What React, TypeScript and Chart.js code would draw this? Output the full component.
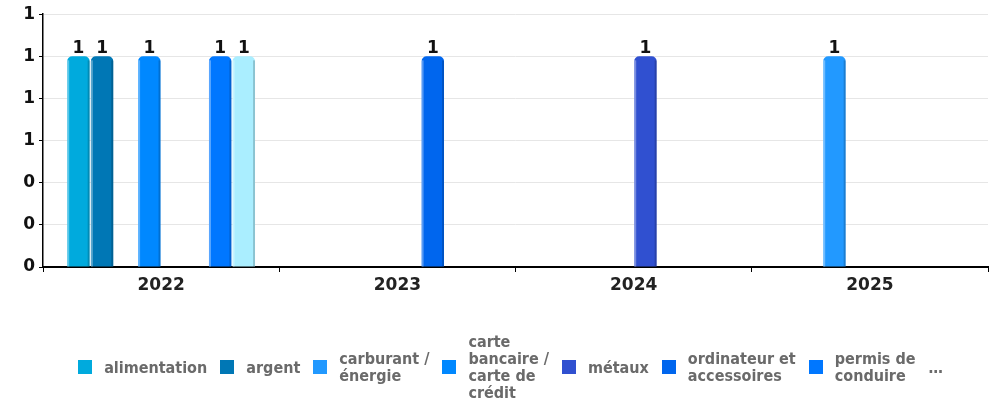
import React, { useEffect, useRef } from "react";
import { Chart, registerables } from "chart.js";

Chart.register(...registerables);

const categories = ["2022", "2023", "2024", "2025"];
const seriesNames = [
  "alimentation",
  "argent",
  "carburant /\nénergie",
  "carte\nbancaire /\ncarte de\ncrédit",
  "métaux",
  "ordinateur et\naccessoires",
  "permis de\nconduire",
  "autres",
];
const seriesColors = ["#00AADD", "#0077B5", "#2299FF", "#0088FF", "#3050D0", "#0066EE", "#0077FF", "#AAEEFF"];
const alimentation = [1, null, null, null];
const argent = [1, null, null, null];
const carburant = [null, null, null, 1];
const carteBancaire = [1, null, null, null];
const metaux = [null, null, 1, null];
const ordinateur = [null, 1, null, null];
const permis = [1, null, null, null];
const autres = [1, null, null, null];
const seriesValues = [alimentation, argent, carburant, carteBancaire, metaux, ordinateur, permis, autres];
const yMin = 0;
const yMax = 1.2;
const yStep = 0.2;
const legendShown = 7;

const LABEL_FONT = "bold 17px 'DejaVu Sans'";

const barDecor = {
  id: "barDecor",
  afterDatasetsDraw(chart: any) {
    const ctx = chart.ctx;
    const bars: any[] = [];
    chart.data.datasets.forEach((ds: any, di: number) => {
      const meta = chart.getDatasetMeta(di);
      meta.data.forEach((bar: any, i: number) => {
        const v = ds.data[i];
        if (v == null) return;
        const p = bar.getProps(["x", "y", "base", "width"], true);
        bars.push({ ...p, v });
      });
    });
    ctx.save();
    bars.forEach((b) => {
      const l = b.x - b.width / 2;
      ctx.fillStyle = "rgba(255,255,255,0.35)";
      ctx.fillRect(l, b.y + 4, 2, b.base - b.y - 4);
      ctx.fillStyle = "rgba(0,0,0,0.18)";
      ctx.fillRect(l + b.width - 2, b.y + 4, 2, b.base - b.y - 4);
    });
    ctx.font = LABEL_FONT;
    ctx.fillStyle = "#111";
    ctx.textAlign = "center";
    ctx.textBaseline = "alphabetic";
    bars.forEach((b) => {
      ctx.fillText(String(b.v), b.x, b.y - 3);
    });
    ctx.restore();
  },
};

export default function App() {
  const ref = useRef<HTMLCanvasElement>(null);

  useEffect(() => {
    if (!ref.current) return;
    const chart = new Chart(ref.current, {
      type: "bar",
      data: {
        labels: categories,
        datasets: seriesValues.map((vals, i) => ({
          label: seriesNames[i].replace(/\n/g, " "),
          data: vals,
          backgroundColor: seriesColors[i],
          borderRadius: { topLeft: 5, topRight: 5, bottomLeft: 0, bottomRight: 0 },
          borderSkipped: false,
          categoryPercentage: 0.8,
          barPercentage: 0.95,
        })),
      },
      plugins: [barDecor],
      options: {
        animation: false,
        responsive: false,
        layout: { padding: { top: 13, right: 10, left: 0, bottom: 0 } },
        plugins: { legend: { display: false }, tooltip: { enabled: false } },
        scales: {
          x: {
            grid: { display: true, drawOnChartArea: false, drawTicks: true, tickLength: 5, tickColor: "#000", offset: true },
            border: { color: "#000", width: 2 },
            ticks: { font: { family: "DejaVu Sans", weight: "bold", size: 17 }, color: "#222", padding: 3 },
            afterFit: (s: any) => {
              s.height = 404 - 267;
            },
          },
          y: {
            min: yMin,
            max: yMax,
            ticks: {
              stepSize: yStep,
              callback: (v: any) => String(Math.round(Number(v))),
              font: { family: "DejaVu Sans", weight: "bold", size: 17 },
              color: "#111",
              padding: 4,
            },
            grid: { color: "#e6e6e6", tickColor: "#000", tickLength: 4 },
            border: { color: "#000", width: 1.5 },
            afterFit: (s: any) => {
              s.width = 43;
            },
          },
        },
      },
    } as any);
    return () => chart.destroy();
  }, []);

  return (
    <div style={{ position: "fixed", left: 0, top: 0, width: 998, height: 404, background: "#fff" }}>
      <canvas ref={ref} width={998} height={404} style={{ display: "block", width: 998, height: 404 }} />
      <div
        style={{
          position: "absolute",
          left: 0,
          top: 330,
          width: 998,
          height: 74,
          paddingLeft: 23,
          boxSizing: "border-box",
          display: "flex",
          justifyContent: "center",
          alignItems: "center",
          fontFamily: "'DejaVu Sans Condensed', sans-serif",
          fontWeight: "bold",
          fontSize: 16,
          color: "#6a6a6a",
        }}
      >
        {seriesNames.slice(0, legendShown).map((n, i) => (
          <div key={i} style={{ display: "flex", alignItems: "center", marginRight: 13 }}>
            <span style={{ width: 14, height: 14, background: seriesColors[i], marginRight: 12, flex: "none" }} />
            <span style={{ whiteSpace: "pre-line", lineHeight: "17px" }}>{n}</span>
          </div>
        ))}
        <span>…</span>
      </div>
    </div>
  );
}
